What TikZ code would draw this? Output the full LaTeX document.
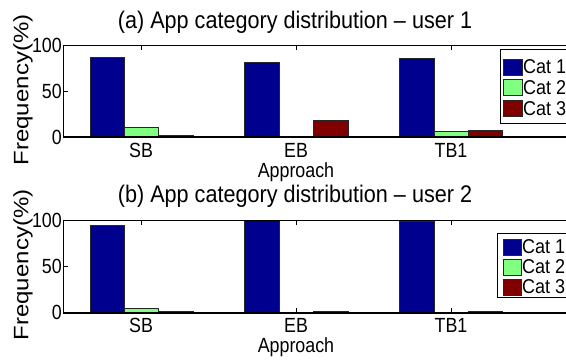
\documentclass[tikz,border=0pt]{standalone}
\usepackage{fontspec}
\setmainfont{Liberation Sans}
\definecolor{catone}{RGB}{0,0,143}
\definecolor{cattwo}{RGB}{128,255,128}
\definecolor{catthree}{RGB}{128,0,0}
\tikzset{
  bar/.style={draw=black!85, line width=0.8pt},
  axisline/.style={line width=1pt},
  baseline/.style={line width=1.6pt},
  tick/.style={line width=0.8pt},
  lbl/.style={inner sep=0pt, xscale=0.87, font=\fontsize{20.5}{22}\selectfont},
  ylab/.style={inner sep=0pt, rotate=90, yscale=0.87, font=\fontsize{24}{26}\selectfont},
  ttl/.style={inner sep=0pt, xscale=0.9, font=\fontsize{24}{26}\selectfont},
  legtxt/.style={inner sep=0pt, anchor=west, xscale=0.9, font=\fontsize{20}{21}\selectfont}
}
\begin{document}
\begin{tikzpicture}[x=1pt,y=-1pt]
    \useasboundingbox (0,0) rectangle (566,360);

    % panel (a)
    \node[ttl] (ttlA) at (295,22) {(a) App category distribution -- user 1};
    \node[ylab] (ylabA) at (23,90) {Frequency(\%)};
    \draw[fill=catone,bar] (90,137) rectangle (124,57);
    \draw[fill=cattwo,bar] (124,137) rectangle (158,127.8);
    \draw[fill=catthree,bar] (158,137) rectangle (193,135);
    \draw[fill=catone,bar] (244,137) rectangle (279,62);
    \draw[fill=catthree,bar] (313,137) rectangle (348,120.7);
    \draw[fill=catone,bar] (399,137) rectangle (434,58.7);
    \draw[fill=cattwo,bar] (434,137) rectangle (468,131);
    \draw[fill=catthree,bar] (468,137) rectangle (502,130);
    \draw[axisline] (566,45) -- (63,45) -- (63,137);
    \draw[baseline] (63,137) -- (566,137);
    \draw[tick] (63,91) -- (68,91);
    \draw[tick] (141,45) -- (141,50);
    \draw[tick] (296,45) -- (296,50);
    \draw[tick] (451,45) -- (451,50);
    \node[lbl,anchor=east] (yA100) at (62,45) {100};
    \node[lbl,anchor=east] (yA50) at (62,91) {50};
    \node[lbl,anchor=east] (yA0) at (62,137) {0};
    \node[lbl,anchor=base] (sbA) at (141,157) {SB};
    \node[lbl,anchor=base] (ebA) at (296,157) {EB};
    \node[lbl,anchor=base] (tbA) at (451,157) {TB1};
    \node[lbl,anchor=base] (xlabA) at (296,177) {Approach};
    % legend (a)
    \draw[line width=0.8pt,fill=white] (566,49) -- (500,49) -- (500,123) -- (566,123);
    \draw[fill=catone,bar] (503,59) rectangle (522,75);
    \draw[fill=cattwo,bar] (503,79) rectangle (522,95);
    \draw[fill=catthree,bar] (503,100) rectangle (522,116);
    \node[legtxt] (legA1) at (523,67) {Cat 1};
    \node[legtxt] (legA2) at (523,87.5) {Cat 2};
    \node[legtxt] (legA3) at (523,108.5) {Cat 3};

    % panel (b)
    \node[ylab] (ylabB) at (23,265) {Frequency(\%)};
    \draw[fill=catone,bar] (90,312.7) rectangle (124,225);
    \draw[fill=cattwo,bar] (124,312.7) rectangle (158,308.3);
    \draw[fill=catthree,bar] (158,312.7) rectangle (193,311);
    \draw[fill=catone,bar] (244,312.7) rectangle (279,220);
    \draw[fill=catthree,bar] (313,312.7) rectangle (348,311.8);
    \draw[fill=catone,bar] (399,312.7) rectangle (434,221);
    \draw[fill=catthree,bar] (468,312.7) rectangle (502,311.8);
    \draw[axisline] (566,220) -- (63,220) -- (63,312.7);
    \draw[baseline] (63,312.7) -- (566,312.7);
    \draw[tick] (63,266) -- (68,266);
    \draw[tick] (141,220) -- (141,225);
    \draw[tick] (296,220) -- (296,225);
    \draw[tick] (451,220) -- (451,225);
    \draw[tick] (296,312.7) -- (296,307.7);
    \draw[tick] (451,312.7) -- (451,307.7);
    \node[lbl,anchor=east] (yB100) at (62,220) {100};
    \node[lbl,anchor=east] (yB50) at (62,266) {50};
    \node[lbl,anchor=east] (yB0) at (62,312.7) {0};
    \node[lbl,anchor=base] (sbB) at (141,332) {SB};
    \node[lbl,anchor=base] (ebB) at (296,332) {EB};
    \node[lbl,anchor=base] (tbB) at (451,332) {TB1};
    \node[lbl,anchor=base] (xlabB) at (296,352.5) {Approach};
    \node[ttl] (ttlB) at (295,196) {(b) App category distribution -- user 2};
    % legend (b)
    \draw[line width=0.8pt,fill=white] (566,233) -- (497,233) -- (497,297) -- (566,297);
    \draw[fill=catone,bar] (503,239) rectangle (521,255);
    \draw[fill=cattwo,bar] (503,259) rectangle (521,275);
    \draw[fill=catthree,bar] (503,279) rectangle (521,295);
    \node[legtxt] (legB1) at (522,247) {Cat 1};
    \node[legtxt] (legB2) at (522,267) {Cat 2};
    \node[legtxt] (legB3) at (522,287) {Cat 3};
\end{tikzpicture}
\end{document}
